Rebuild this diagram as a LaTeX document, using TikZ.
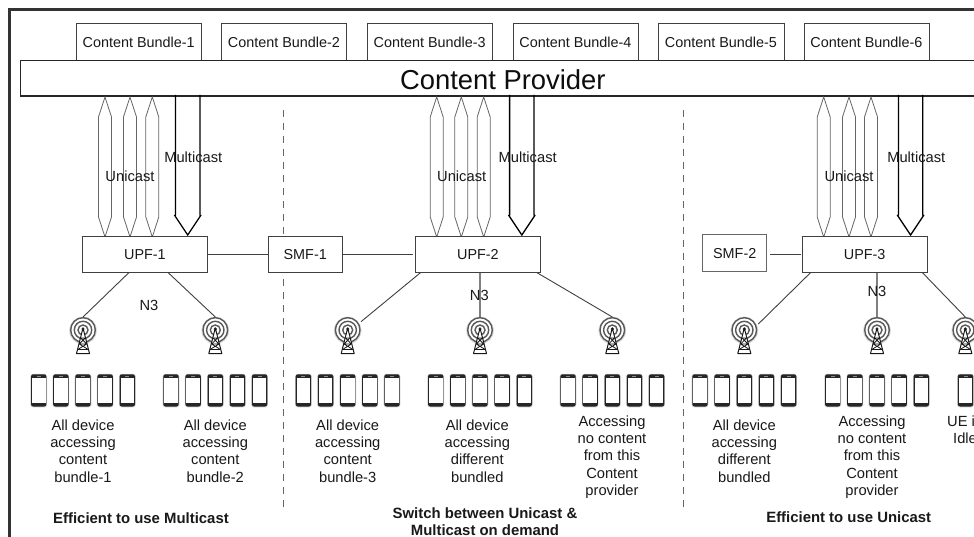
\documentclass[tikz,border=0pt]{standalone}
\usepackage{fontspec}
\setmainfont{Liberation Sans}
\tikzset{
  lbl/.style={inner sep=0pt,align=center,font=\fontsize{14.7}{17.3}\selectfont,text=black!90},
  blbl/.style={inner sep=0pt,align=center,font=\bfseries\fontsize{14.9}{17.6}\selectfont,text=black!90},
  boxn/.style={draw=black!75,line width=0.9pt,fill=white,inner sep=0pt,anchor=north west,font=\fontsize{14.4}{17}\selectfont,text=black!90},
  link/.style={draw=black!75,line width=0.9pt},
  graylink/.style={draw=black!50,line width=1.1pt},
  sep/.style={draw=black!60,line width=0.7pt,dash pattern=on 7pt off 6pt},
  uni/.style={draw=black!60,line width=0.8pt,line join=miter},
  multi/.style={draw=black,line width=1.3pt,line join=miter}
}
\newcommand{\boxat}[6]{\node[boxn,minimum width=#4 pt-#2 pt,minimum height=#5 pt-#3 pt] (#1) at (#2,#3) {#6};}
\newcommand{\uniarrow}[1]{\draw[uni] (#1,97) -- (#1+6.5,117) -- (#1+6.5,217) -- (#1,237) -- (#1-6.5,217) -- (#1-6.5,117) -- cycle;}
\newcommand{\multiarrow}[1]{\draw[multi] (#1-12.2,95) -- (#1-12.2,215) -- (#1-13,215.5) -- (#1,235) -- (#1+13,215.5) -- (#1+12.2,215) -- (#1+12.2,95);}
\newcommand{\tower}[2]{%
  \begin{scope}[shift={(#1,330)}]
    \fill[black!15] (0,0.5) circle (13.8);
    \draw[black!65,line width=1.4pt,fill=white] (0,0) circle (12.3);
    \draw[black!65,line width=1.4pt] (0,0) circle (8.7);
    \draw[black!65,line width=1.4pt] (0,0) circle (5);
    \fill[black!85] (0,-1) circle (1.7);
    \draw[black!90,line width=1pt,fill=white,line join=round] (0,-2) -- (6.5,23.5) -- (-6.5,23.5) -- cycle;
    \draw[black!90,line width=0.8pt] (-2.2,8) -- (2.2,8) (-3.7,14) -- (3.7,14) (-5.2,19.5) -- (5.2,19.5)
       (-2.2,8) -- (3.7,14) (2.2,8) -- (-3.7,14) (-3.7,14) -- (5.2,19.5) (3.7,14) -- (-5.2,19.5);
    \coordinate (#2) at (0,-13);
  \end{scope}}
\newcommand{\phone}[1]{%
  \begin{scope}[shift={(#1,374.3)}]
    \fill[black!18,rounded corners=2.5pt] (-8.3,-0.4) rectangle (8.3,33);
    \fill[black!85,rounded corners=2.2pt] (-7.7,0) rectangle (7.7,32.2);
    \fill[white] (-6.8,3.4) rectangle (6.8,28.2);
    \fill[black!45] (-2,1.4) rectangle (2,2.2);
  \end{scope}}
\newcommand{\phones}[1]{\foreach \k in {-2,-1,0,1,2}{\phone{#1+\k*22.15}}}
\begin{document}
\begin{tikzpicture}[x=1pt,y=-1pt]
\useasboundingbox (0,0) rectangle (974,537);
\clip (0,0) rectangle (974,537);
\fill[white] (0,0) rectangle (974,537);
% outer frame
\draw[black!80,line width=2.6pt] (9.5,540) -- (9.5,9.5) -- (980,9.5);
% separators
\coordinate (s1a) at (283.5,110); \coordinate (s1b) at (283.5,512);
\coordinate (s2a) at (683.5,110); \coordinate (s2b) at (683.5,512);
\draw[sep] (s1a) -- (s1b);
\draw[sep] (s2a) -- (s2b);
% bundles
\boxat{b1}{75.5}{23.5}{201}{60.5}{Content Bundle-1}
\boxat{b2}{221}{23.5}{346}{60.5}{Content Bundle-2}
\boxat{b3}{366.5}{23.5}{492}{60.5}{Content Bundle-3}
\boxat{b4}{512.5}{23.5}{637.5}{60.5}{Content Bundle-4}
\boxat{b5}{657.5}{23.5}{783.5}{60.5}{Content Bundle-5}
\boxat{b6}{803.5}{23.5}{928.5}{60.5}{Content Bundle-6}
% provider
\node[draw=black!85,line width=1.1pt,fill=white,inner sep=0pt,anchor=north west,minimum width=965.5pt,minimum height=35.5pt,text=black!95] (cp) at (19.5,60) {};
\node[inner sep=0pt,font=\fontsize{27.4}{32}\selectfont,text=black!95] (cpt) at ([yshift=-1.5pt]cp.center) {Content Provider};
% block arrows
\uniarrow{105}\uniarrow{130}\uniarrow{152.3}\multiarrow{187.7}
\uniarrow{436.7}\uniarrow{461.3}\uniarrow{483.7}\multiarrow{521.8}
\uniarrow{823.7}\uniarrow{849}\uniarrow{871}\multiarrow{910.6}
\node[lbl] (u1) at (130,176.7) {Unicast};
\node[lbl] (u2) at (461.7,176.7) {Unicast};
\node[lbl] (u3) at (849,176.7) {Unicast};
\node[lbl] (m1) at (193.3,157.3) {Multicast};
\node[lbl] (m2) at (527.7,157.3) {Multicast};
\node[lbl] (m3) at (916.3,157.3) {Multicast};
% core boxes
\boxat{upf1}{82}{236.5}{207}{272.5}{UPF-1}
\boxat{smf1}{267.5}{236.5}{342}{272.5}{SMF-1}
\boxat{upf2}{414.7}{236.5}{540.3}{272.5}{UPF-2}
\boxat{upf3}{801.7}{236.5}{926.7}{272.5}{UPF-3}
\node[boxn,draw=black!60,line width=1.1pt,minimum width=63.7pt,minimum height=36.7pt] (smf2) at (702.3,234.3) {SMF-2};
\draw[link] (upf1.east) -- (smf1.west);
\draw[link] (smf1.east) -- ([xshift=-2pt]upf2.west);
\draw[link] ([xshift=3pt]smf2.east |- upf3.west) -- ([xshift=-1pt]upf3.west);
% towers
\tower{83}{t1}\tower{215.3}{t2}\tower{347.7}{t3}\tower{480}{t4}\tower{612.3}{t5}\tower{744.3}{t6}\tower{877}{t7}\tower{965.3}{t8}
% links to towers
\coordinate (p1) at (129,272.5); \coordinate (p2) at (168,272.5);
\coordinate (p3) at (420.7,272.5); \coordinate (p5) at (536.7,272.5);
\coordinate (p6) at (810.7,272.5); \coordinate (p8) at (922.3,272.5);
\coordinate (e3) at (361,321.7); \coordinate (e6) at (758.3,324);
\draw[link] (p1) -- (t1);
\draw[link] (p2) -- (t2);
\draw[link] (p3) -- (e3);
\draw[graylink] (upf2.south -| t4) -- (t4);
\draw[link] (p5) -- (t5);
\draw[link] (p6) -- (e6);
\draw[graylink] (upf3.south -| t7) -- (t7);
\draw[link] (p8) -- (t8);
\node[lbl] (n1) at (149,305) {N3};
\node[lbl] (n2) at (479.3,295.7) {N3};
\node[lbl] (n3) at (877,291) {N3};
% phones
\phones{83}\phones{215.3}\phones{347.7}\phones{480}\phones{612.3}\phones{744.3}\phones{877}\phone{965.5}
% captions
\node[lbl,anchor=north] (c1) at (83,419.5) {All device\\accessing\\content\\bundle-1};
\node[lbl,anchor=north] (c2) at (215.3,419.5) {All device\\accessing\\content\\bundle-2};
\node[lbl,anchor=north] (c3) at (347.7,419.5) {All device\\accessing\\content\\bundle-3};
\node[lbl,anchor=north] (c4) at (477.3,419.5) {All device\\accessing\\different\\bundled};
\node[lbl,anchor=north] (c5) at (612,415.5) {Accessing\\no content\\from this\\Content\\provider};
\node[lbl,anchor=north] (c6) at (744.3,419.5) {All device\\accessing\\different\\bundled};
\node[lbl,anchor=north] (c7) at (872,415.5) {Accessing\\no content\\from this\\Content\\provider};
\node[lbl,anchor=north west,align=left] (c8) at (947,415.5) {UE i\\\hspace{6pt}Idle};
% bottom notes
\node[blbl] (f1) at (141,517.7) {Efficient to use Multicast};
\node[blbl] (f2) at (485,521.5) {Switch between Unicast \&\\Multicast on demand};
\node[blbl] (f3) at (848.7,517.5) {Efficient to use Unicast};
\end{tikzpicture}
\end{document}
